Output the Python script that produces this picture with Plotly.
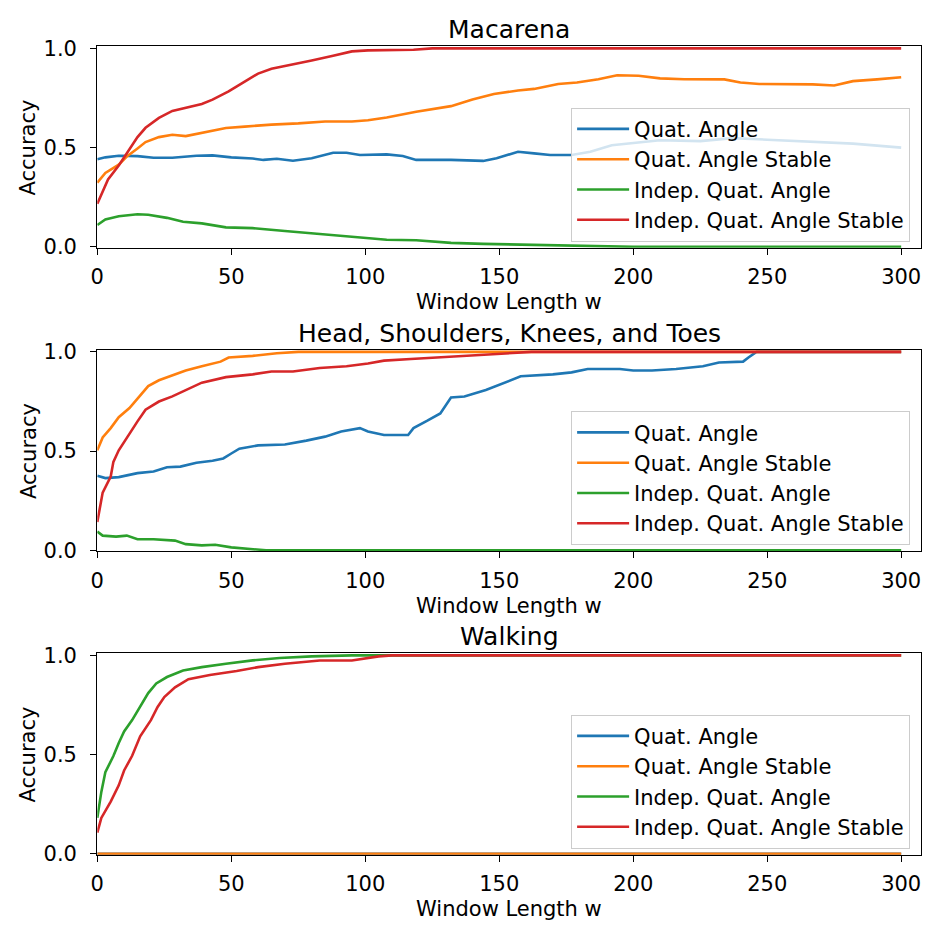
import plotly.graph_objects as go

# ---------------- data ----------------
titles = ["Macarena", "Head, Shoulders, Knees, and Toes", "Walking"]
series_names = ["Quat. Angle", "Quat. Angle Stable", "Indep. Quat. Angle", "Indep. Quat. Angle Stable"]
colors = ["#1f77b4", "#ff7f0e", "#2ca02c", "#d62728"]
x_ticks = [0, 50, 100, 150, 200, 250, 300]
y_ticks = [0.0, 0.5, 1.0]

# Macarena
mac_qa_x = [0, 3, 8, 15, 21, 28, 37, 43, 50, 58, 62, 67, 73, 80, 88, 93, 98, 108, 114, 119, 132, 144, 149, 157, 163, 169, 177, 184, 192, 202, 210, 225, 237, 250, 267, 282, 300]
mac_qa_y = [0.441, 0.451, 0.459, 0.457, 0.449, 0.449, 0.459, 0.461, 0.451, 0.445, 0.438, 0.444, 0.434, 0.446, 0.474, 0.474, 0.463, 0.466, 0.458, 0.438, 0.438, 0.433, 0.446, 0.479, 0.471, 0.463, 0.463, 0.479, 0.512, 0.524, 0.537, 0.533, 0.548, 0.540, 0.529, 0.520, 0.500]
mac_qas_x = [0, 3, 8, 11, 15, 18, 23, 28, 33, 39, 48, 55, 65, 75, 85, 95, 101, 108, 119, 132, 140, 148, 157, 163, 172, 179, 187, 194, 202, 210, 219, 234, 240, 247, 257, 267, 275, 282, 291, 300]
mac_qas_y = [0.323, 0.372, 0.414, 0.455, 0.496, 0.528, 0.553, 0.565, 0.558, 0.573, 0.599, 0.606, 0.616, 0.622, 0.632, 0.632, 0.638, 0.652, 0.681, 0.709, 0.742, 0.770, 0.788, 0.796, 0.821, 0.828, 0.845, 0.865, 0.862, 0.849, 0.845, 0.844, 0.828, 0.821, 0.821, 0.819, 0.813, 0.835, 0.844, 0.855]
mac_iqa_x = [0, 3, 8, 15, 19, 26, 32, 39, 48, 58, 70, 83, 93, 108, 119, 132, 144, 157, 169, 184, 200, 250, 300]
mac_iqa_y = [0.110, 0.138, 0.154, 0.164, 0.162, 0.146, 0.126, 0.118, 0.098, 0.094, 0.080, 0.064, 0.051, 0.036, 0.033, 0.020, 0.015, 0.011, 0.006, 0.002, 0.0, 0.0, 0.0]
mac_iqas_x = [0, 4, 8, 12, 15, 18, 23, 28, 33, 39, 43, 49, 55, 60, 65, 73, 80, 88, 95, 101, 110, 118, 125, 150, 200, 250, 300]
mac_iqas_y = [0.217, 0.340, 0.410, 0.490, 0.553, 0.600, 0.650, 0.685, 0.700, 0.720, 0.742, 0.783, 0.833, 0.873, 0.898, 0.918, 0.939, 0.963, 0.985, 0.990, 0.990, 0.993, 1.0, 1.0, 1.0, 1.0, 1.0]

# Head, Shoulders, Knees, and Toes
hsk_qa_x = [0, 3, 8, 15, 21, 26, 31, 37, 43, 47, 50, 53, 60, 70, 78, 85, 91, 98, 101, 107, 116, 118, 123, 128, 132, 137, 145, 151, 158, 170, 177, 183, 195, 200, 207, 216, 226, 232, 241, 243, 246, 250, 300]
hsk_qa_y = [0.376, 0.364, 0.369, 0.389, 0.397, 0.419, 0.422, 0.441, 0.451, 0.463, 0.488, 0.512, 0.529, 0.533, 0.553, 0.573, 0.599, 0.616, 0.599, 0.581, 0.581, 0.616, 0.652, 0.690, 0.770, 0.775, 0.808, 0.840, 0.877, 0.887, 0.897, 0.914, 0.914, 0.906, 0.906, 0.914, 0.928, 0.947, 0.951, 0.972, 1.0, 1.0, 1.0]
hsk_qas_x = [0, 2, 5, 8, 12, 16, 19, 23, 28, 33, 39, 46, 49, 58, 67, 75, 150, 300]
hsk_qas_y = [0.504, 0.569, 0.616, 0.671, 0.717, 0.783, 0.828, 0.857, 0.882, 0.906, 0.928, 0.951, 0.972, 0.980, 0.993, 1.0, 1.0, 1.0]
hsk_iqa_x = [0, 2, 7, 11, 15, 21, 29, 33, 39, 44, 50, 58, 63, 150, 300]
hsk_iqa_y = [0.094, 0.074, 0.069, 0.074, 0.056, 0.056, 0.049, 0.031, 0.025, 0.028, 0.015, 0.006, 0.0, 0.0, 0.0]
hsk_iqas_x = [0, 2, 5, 6, 8, 11, 15, 18, 23, 28, 33, 39, 48, 58, 65, 73, 83, 93, 101, 107, 117, 132, 145, 155, 162, 200, 250, 300]
hsk_iqas_y = [0.143, 0.291, 0.372, 0.446, 0.504, 0.569, 0.650, 0.709, 0.750, 0.776, 0.808, 0.845, 0.873, 0.887, 0.901, 0.901, 0.919, 0.928, 0.942, 0.956, 0.964, 0.976, 0.984, 0.993, 1.0, 1.0, 1.0, 1.0]

# Walking
wlk_qa_x = [0, 100, 200, 300]
wlk_qa_y = [0.0, 0.0, 0.0, 0.0]
wlk_qas_x = [0, 100, 200, 300]
wlk_qas_y = [0.0, 0.0, 0.0, 0.0]
wlk_iqa_x = [0, 1.5, 3, 6, 8, 10, 13, 16, 19, 22, 26, 32, 39, 48, 58, 68, 80, 95, 150, 300]
wlk_iqa_y = [0.181, 0.312, 0.411, 0.493, 0.559, 0.617, 0.674, 0.740, 0.810, 0.859, 0.891, 0.924, 0.941, 0.958, 0.975, 0.987, 0.995, 1.0, 1.0, 1.0]
wlk_iqas_x = [0, 1.5, 5, 8, 10, 13, 16, 20, 22.5, 25, 29, 34, 42, 52, 60, 70, 83, 95, 105, 110, 150, 300]
wlk_iqas_y = [0.107, 0.181, 0.263, 0.345, 0.420, 0.494, 0.592, 0.674, 0.740, 0.790, 0.839, 0.880, 0.901, 0.921, 0.941, 0.958, 0.974, 0.974, 0.995, 1.0, 1.0, 1.0]

panels = [
    [(mac_qa_x, mac_qa_y), (mac_qas_x, mac_qas_y), (mac_iqa_x, mac_iqa_y), (mac_iqas_x, mac_iqas_y)],
    [(hsk_qa_x, hsk_qa_y), (hsk_qas_x, hsk_qas_y), (hsk_iqa_x, hsk_iqa_y), (hsk_iqas_x, hsk_iqas_y)],
    [(wlk_qa_x, wlk_qa_y), (wlk_qas_x, wlk_qas_y), (wlk_iqa_x, wlk_iqa_y), (wlk_iqas_x, wlk_iqas_y)],
]

# ---------------- layout ----------------
W, H = 925, 931
FONT = "DejaVu Sans"
x_left, x_right = 91, 920.7              # pixel positions of the axes box
top0, panel_h, step = 37.3, 206, 310.5
x_max = (x_right - x_left) / 2.7         # 300 lands at x ~901


def px(p):
    return p / W


def py(p):
    return 1 - p / H


fig = go.Figure()
layout = dict(
    width=W, height=H, margin=dict(l=0, r=0, t=0, b=0),
    plot_bgcolor="white", paper_bgcolor="white",
    font=dict(family=FONT, color="black", size=21),
)
annotations = []
for k in range(3):
    sfx = "" if k == 0 else str(k + 1)
    top = top0 + step * k
    bot = top + panel_h
    legname = "legend" if k == 0 else "legend" + str(k + 1)
    for i, (xs, ys) in enumerate(panels[k]):
        fig.add_trace(go.Scatter(
            x=xs, y=ys, mode="lines", name=series_names[i],
            line=dict(color=colors[i], width=2.6),
            xaxis="x" + sfx, yaxis="y" + sfx, legend=legname,
            showlegend=True,
        ))
    layout["xaxis" + sfx] = dict(
        domain=[px(x_left), px(x_right)], range=[0, x_max], anchor="y" + sfx,
        tickvals=x_ticks, ticks="outside", ticklen=6, tickwidth=1.3, tickcolor="black",
        showline=True, linecolor="black", linewidth=1.3, mirror=True,
        showgrid=False, zeroline=False, tickfont=dict(size=21, family=FONT),
        ticklabelstandoff=4,
    )
    layout["yaxis" + sfx] = dict(
        domain=[py(bot), py(top)], range=[-0.005, 1.0099], anchor="x" + sfx,
        tickvals=y_ticks, tickformat=".1f", ticks="outside", ticklen=6, tickwidth=1.3,
        tickcolor="black", showline=True, linecolor="black", linewidth=1.3, mirror=True,
        showgrid=False, zeroline=False, tickfont=dict(size=21, family=FONT),
        ticklabelstandoff=9,
    )
    layout[legname] = dict(
        x=px(910), xanchor="right", y=py(100 + step * k), yanchor="top",
        bgcolor="rgba(255,255,255,0.8)", bordercolor="#cccccc", borderwidth=1,
        font=dict(size=21, family=FONT), tracegroupgap=0, itemwidth=52,
    )
    annotations.append(dict(text=titles[k], x=px((x_left + x_right) / 2), y=py(20 + step * k),
                            xref="paper", yref="paper", xanchor="center", yanchor="middle",
                            showarrow=False, font=dict(size=25, family=FONT)))
    annotations.append(dict(text="Window Length w", x=px((x_left + x_right) / 2), y=py(299 + step * k),
                            xref="paper", yref="paper", xanchor="center", yanchor="middle",
                            showarrow=False, font=dict(size=21, family=FONT)))
    annotations.append(dict(text="Accuracy", x=px(21.5), y=py((top + bot) / 2),
                            xref="paper", yref="paper", xanchor="center", yanchor="middle",
                            textangle=-90, showarrow=False, font=dict(size=21, family=FONT)))
layout["annotations"] = annotations
fig.update_layout(**layout)
fig.write_html("out.html")
